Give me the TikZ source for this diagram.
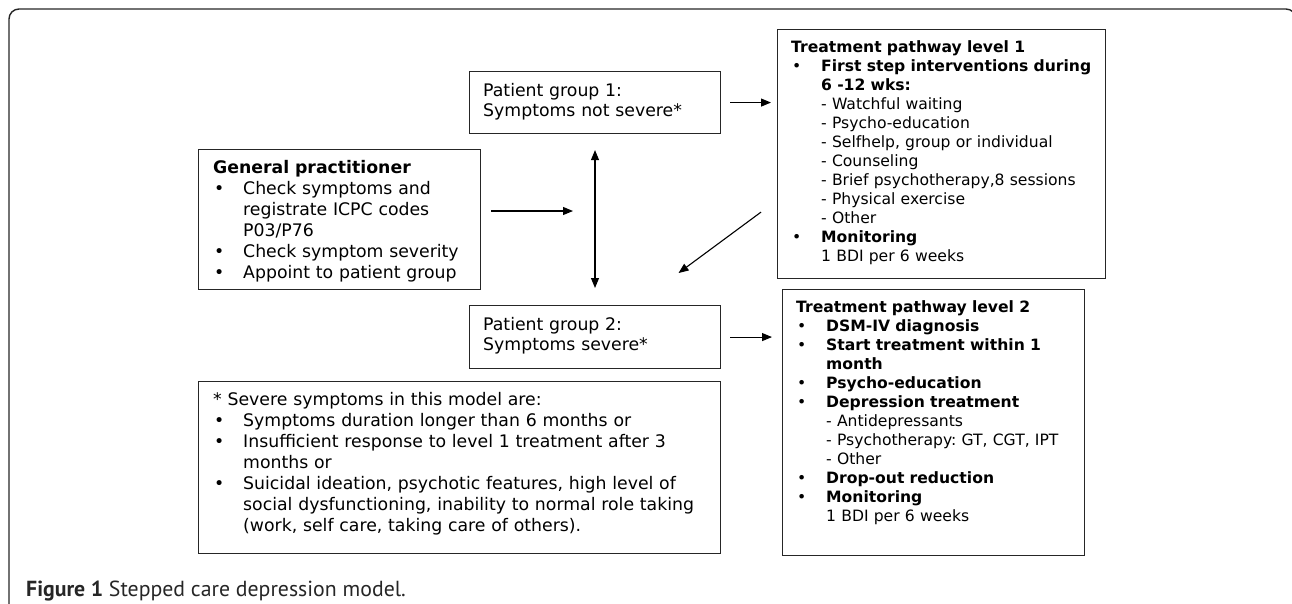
\documentclass[tikz,border=0pt]{standalone}
\usepackage{fontspec}
\setmainfont{DejaVu Sans}
\newfontfamily\capfont{PT Sans}
\usetikzlibrary{arrows.meta,calc}
\frenchspacing
\newcommand{\bulA}{\makebox[30pt][l]{\hspace{1pt}•}}
\newcommand{\indA}{\hspace*{30pt}}
\newcommand{\bulB}{\makebox[30pt][l]{\hspace{1pt}•}}
\newcommand{\indB}{\hspace*{30pt}}
\tikzset{
  box/.style={draw=black!85, line width=1.1pt, inner sep=0pt, anchor=north west},
  txt/.style={inner sep=0pt, anchor=base west, align=left, text width=520pt},
  big/.style={font=\fontsize{17.3}{21}\selectfont\frenchspacing},
  pgfont/.style={font=\fontsize{17.3}{20.5}\selectfont\frenchspacing},
  small/.style={font=\fontsize{15.6}{19}\selectfont\frenchspacing},
  arr/.style={line width=1.1pt, draw=black, -{Triangle[length=10pt,width=8pt]}},
  darr/.style={line width=1.1pt, draw=black, {Triangle[length=10pt,width=8pt]}-{Triangle[length=10pt,width=8pt]}},
  frame/.style={draw=black!85, line width=1.4pt, rounded corners=10pt},
}
\begin{document}
\begin{tikzpicture}[x=1pt,y=-1pt]
\useasboundingbox (0,0) rectangle (1292,603);
\begin{scope}
\clip (0,0) rectangle (1292,603);
\draw[frame] (9,640) -- (9,9) -- (1296,9) -- (1296,640);
\end{scope}

% boxes
\node[box, minimum width=282pt, minimum height=140pt] (gp) at (198,149) {};
\node[box, minimum width=251pt, minimum height=62pt] (pg1) at (469,71) {};
\node[box, minimum width=251pt, minimum height=63pt] (pg2) at (469,305) {};
\node[box, minimum width=522pt, minimum height=172pt] (sev) at (198,381) {};
\node[box, minimum width=328pt, minimum height=249pt] (l1) at (777,29) {};
\node[box, minimum width=302pt, minimum height=266pt] (l2) at (782,289) {};

% texts
\node[txt, big] (gpt) at (213,173) {\textbf{General practitioner}\\
\bulA Check symptoms and\\
\indA registrate ICPC codes\\
\indA P03/P76\\
\bulA Check symptom severity\\
\bulA Appoint to patient group};

\node[txt, pgfont] (pg1t) at (483,96) {Patient group 1:\\ Symptoms not severe*};
\node[txt, pgfont] (pg2t) at (483,330) {Patient group 2:\\ Symptoms severe*};

\node[txt, big] (sevt) at (213,405) {* Severe symptoms in this model are:\\
\bulA Symptoms duration longer than 6 months or\\
\bulA Insufficient response to level 1 treatment after 3\\
\indA months or\\
\bulA \makebox[464pt][s]{Suicidal ideation, psychotic features, high level of}\\
\indA \makebox[464pt][s]{social dysfunctioning, inability to normal role taking}\\
\indA (work, self care, taking care of others).};

\node[txt, small] (l1t) at (791,52) {\textbf{Treatment pathway level 1}\\
\bulB\textbf{First step interventions during}\\
\indB\textbf{6 -12 wks:}\\
\indB - Watchful waiting\\
\indB - Psycho-education\\
\indB - Selfhelp, group or individual\\
\indB - Counseling\\
\indB - Brief psychotherapy,8 sessions\\
\indB - Physical exercise\\
\indB - Other\\
\bulB\textbf{Monitoring}\\
\indB 1 BDI per 6 weeks};

\node[txt, small] (l2t) at (796,312) {\textbf{Treatment pathway level 2}\\
\bulB\textbf{DSM-IV diagnosis}\\
\bulB\textbf{Start treatment within 1}\\
\indB\textbf{month}\\
\bulB\textbf{Psycho-education}\\
\bulB\textbf{Depression treatment}\\
\indB - Antidepressants\\
\indB - Psychotherapy: GT, CGT, IPT\\
\indB - Other\\
\bulB\textbf{Drop-out reduction}\\
\bulB\textbf{Monitoring}\\
\indB 1 BDI per 6 weeks};

\node[inner sep=0pt, anchor=base west, text=black!85, font=\capfont\fontsize{21.8}{26}\selectfont] (cap) at (26,596) {\textbf{Figure 1} Stepped care depression model.};

% connectors
\coordinate (mid) at (595,211);
\draw[arr] ([xshift=10pt]gp.east |- mid) -- ([xshift=-22pt]mid);
\draw[darr] ([yshift=-16pt]pg1.south -| mid) -- ([yshift=17pt]pg2.north -| mid);
\draw[arr] ([xshift=9pt]pg1.east) -- ([xshift=-6pt]pg1.east -| l1.west);
\draw[arr] ([xshift=9pt]pg2.east) -- ([xshift=-10pt]pg2.east -| l2.west);
\draw[arr] ([shift={(-16pt,67pt)}]l1.south west) -- ([shift={(83.5pt,32pt)}]pg2.north);
\end{tikzpicture}
\end{document}
